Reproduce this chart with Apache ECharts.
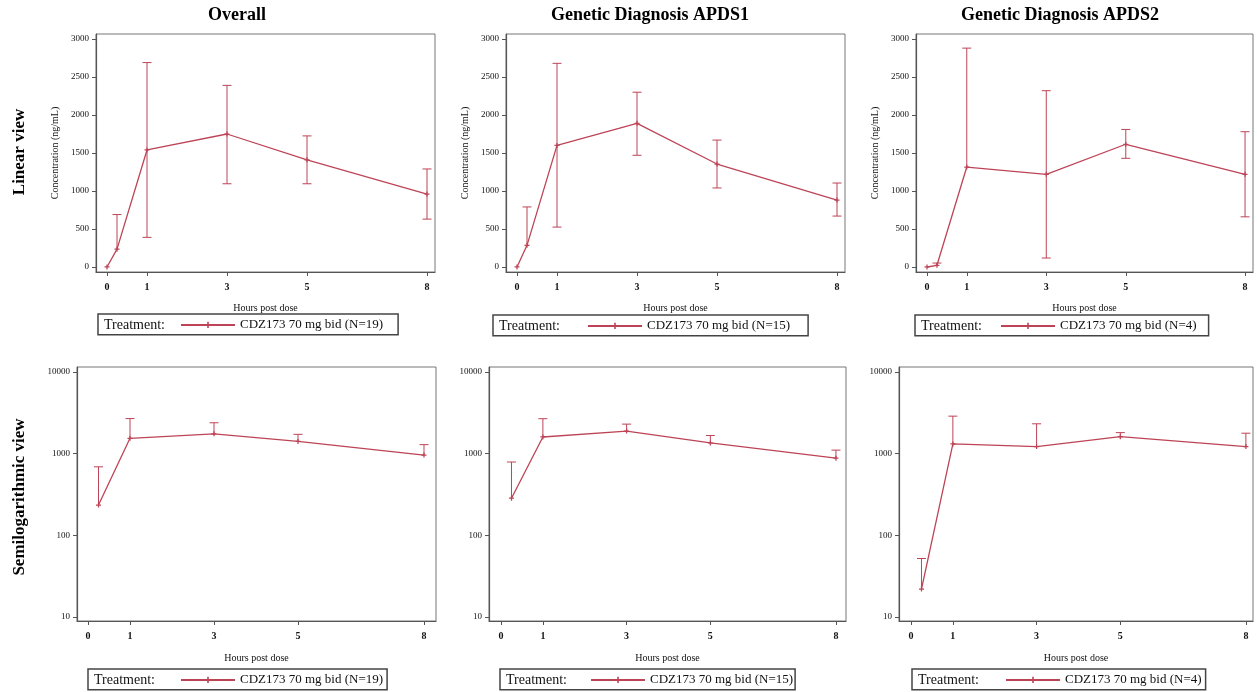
<!doctype html>
<html>
<head>
    <title>CDZ173 concentration</title>
    <script src="https://cdn.jsdelivr.net/npm/echarts@6/dist/echarts.min.js"></script>
</head>
<style>
    html, body { margin: 0; padding: 0; background: #fff; }
    #EChartParent { width: 1257px; height: 692px; }
</style>
<body>
<div id="EChartParent"></div>
<script>
  // data (ng/mL), hours post dose
  var hours = [0, 0.25, 1, 3, 5, 8];
  var overallMean  = [0, 235, 1540, 1750, 1410, 960];
  var overallUpper = [0, 690, 2690, 2390, 1725, 1290];
  var overallLower = [0, 235, 390, 1095, 1095, 630];   // lower = mean where no lower whisker shown
  var apds1Mean  = [0, 285, 1600, 1890, 1355, 880];
  var apds1Upper = [0, 790, 2680, 2300, 1670, 1105];
  var apds1Lower = [0, 285, 525, 1470, 1040, 670];
  var apds2Mean  = [0, 22, 1315, 1220, 1615, 1220];
  var apds2Upper = [0, 52, 2880, 2320, 1810, 1780];
  var apds2Lower = [0, 22, 1315, 118, 1430, 660];

  var columnTitles = ['Overall', 'Genetic Diagnosis APDS1', 'Genetic Diagnosis APDS2'];
  var legendNames = ['CDZ173 70 mg bid (N=19)', 'CDZ173 70 mg bid (N=15)', 'CDZ173 70 mg bid (N=4)'];
  var hourTicks = [0, 1, 3, 5, 8];
  var linearTicks = [0, 500, 1000, 1500, 2000, 2500, 3000];
  var logTicks = [10, 100, 1000, 10000];

  var means = [overallMean, apds1Mean, apds2Mean];
  var uppers = [overallUpper, apds1Upper, apds2Upper];
  var lowers = [overallLower, apds1Lower, apds2Lower];

  var serif = '"Liberation Serif", "Times New Roman", serif';
  var red = '#bd4456';
  var plus = 'path://M3,0H5V3H8V5H5V8H3V5H0V3H3Z';

  // panel layout: linear row then semilog row
  var panels = [
    { col: 0, log: false, left: 96,  top: 34,  width: 339, height: 238, xmin: -0.275, xmax: 8.2,  lgLeft: 98,  lgTop: 314, lgPad: 82, lgRight: 15 },
    { col: 1, log: false, left: 506, top: 34,  width: 339, height: 238, xmin: -0.275, xmax: 8.2,  lgLeft: 493, lgTop: 315, lgPad: 94, lgRight: 18 },
    { col: 2, log: false, left: 916, top: 34,  width: 337, height: 238, xmin: -0.277, xmax: 8.2,  lgLeft: 915, lgTop: 315, lgPad: 85, lgRight: 12 },
    { col: 0, log: true,  left: 77,  top: 367, width: 359, height: 254, xmin: -0.262, xmax: 8.286, lgLeft: 88,  lgTop: 669, lgPad: 92, lgRight: 4 },
    { col: 1, log: true,  left: 489, top: 367, width: 357, height: 254, xmin: -0.287, xmax: 8.24, lgLeft: 500, lgTop: 669, lgPad: 90, lgRight: 2 },
    { col: 2, log: true,  left: 899, top: 367, width: 354, height: 254, xmin: -0.287, xmax: 8.17, lgLeft: 912, lgTop: 669, lgPad: 93, lgRight: 4 }
  ];

  var axisColor = '#555';

  function renderErrorBar(params, api) {
    var x = api.value(0), m = api.value(1), lo = api.value(2), hi = api.value(3);
    var pm = api.coord([x, m]);
    var w = 4.5;
    var style = { stroke: red, lineWidth: 1 };
    var children = [];
    if (hi > m) {
      var ph = api.coord([x, hi]);
      children.push({ type: 'line', shape: { x1: pm[0], y1: pm[1], x2: ph[0], y2: ph[1] }, style: style });
      children.push({ type: 'line', shape: { x1: ph[0] - w, y1: ph[1], x2: ph[0] + w, y2: ph[1] }, style: style });
    }
    if (lo < m) {
      var pl = api.coord([x, lo]);
      children.push({ type: 'line', shape: { x1: pm[0], y1: pm[1], x2: pl[0], y2: pl[1] }, style: style });
      children.push({ type: 'line', shape: { x1: pl[0] - w, y1: pl[1], x2: pl[0] + w, y2: pl[1] }, style: style });
    }
    return { type: 'group', children: children };
  }

  var grids = [], xAxes = [], yAxes = [], series = [], legends = [], graphics = [];

  panels.forEach(function (p, i) {
    grids.push({ left: p.left, top: p.top, width: p.width, height: p.height, show: true,
      borderColor: '#777', borderWidth: 1, containLabel: false, outerBoundsMode: 'none' });

    xAxes.push({
      type: 'value', gridIndex: i, min: p.xmin, max: p.xmax,
      name: 'Hours post dose', nameLocation: 'middle', nameGap: p.log ? 30 : 29,
      nameTextStyle: { fontFamily: serif, fontSize: 10, color: '#111' },
      axisLine: { show: true, onZero: false, lineStyle: { color: axisColor, width: 1.2 } },
      axisTick: { show: true, length: 4, customValues: hourTicks, lineStyle: { color: axisColor } },
      axisLabel: { customValues: hourTicks, margin: 8, fontFamily: serif, fontSize: 10, fontWeight: 'bold', color: '#111' },
      splitLine: { show: false }
    });

    var yAxis = {
      gridIndex: i,
      axisLine: { show: true, onZero: false, lineStyle: { color: axisColor, width: 1.2 } },
      axisTick: { show: true, length: 4, lineStyle: { color: axisColor } },
      axisLabel: { margin: 7, fontFamily: serif, fontSize: 9, color: '#111',
        formatter: function (v) { return String(v); } },
      splitLine: { show: false }
    };
    if (p.log) {
      yAxis.type = 'log';
      yAxis.logBase = 10;
      yAxis.min = 8.93;
      yAxis.max = 11512;
      yAxis.axisTick.customValues = logTicks;
      yAxis.axisLabel.customValues = logTicks;
    } else {
      yAxis.type = 'value';
      yAxis.min = -66;
      yAxis.max = 3066;
      yAxis.axisTick.customValues = linearTicks;
      yAxis.axisLabel.customValues = linearTicks;
      yAxis.name = 'Concentration (ng/mL)';
      yAxis.nameLocation = 'middle';
      yAxis.nameGap = 33;
      yAxis.nameTextStyle = { fontFamily: serif, fontSize: 10, color: '#111' };
    }
    yAxes.push(yAxis);

    var lineData = [], barData = [];
    hours.forEach(function (h, k) {
      var m = means[p.col][k];
      if (p.log && m <= 0) return;
      lineData.push([h, m]);
      barData.push([h, m, p.log ? m : lowers[p.col][k], uppers[p.col][k]]);
    });

    series.push({
      type: 'custom', name: 'sd' + i, xAxisIndex: i, yAxisIndex: i,
      renderItem: renderErrorBar, data: barData, silent: true,
      encode: { x: 0, y: [1, 2, 3] }
    });
    series.push({
      type: 'line', name: legendNames[p.col], xAxisIndex: i, yAxisIndex: i,
      data: lineData, symbol: plus, symbolSize: 5,
      lineStyle: { color: red, width: 1.3 }, itemStyle: { color: red }
    });

    legends.push({
      left: p.lgLeft, top: p.lgTop, data: [legendNames[p.col]], selectedMode: false,
      itemWidth: 54, itemHeight: 8, padding: [1, p.lgRight, 0, p.lgPad],
      borderColor: '#444', borderWidth: 1.5, backgroundColor: '#fff',
      textStyle: { fontFamily: serif, fontSize: 13, lineHeight: 16, color: '#111' }
    });

    graphics.push({
      type: 'text', left: p.lgLeft + 6, top: p.lgTop + 1, z: 100,
      style: { text: 'Treatment:', font: '14px ' + serif, fill: '#111' }
    });
  });

  // column titles
  var titleCenters = [237, 650, 1060];
  columnTitles.forEach(function (t, c) {
    graphics.push({
      type: 'text', x: titleCenters[c], y: 15, z: 100,
      style: { text: t, font: 'bold 18px ' + serif, fill: '#000', align: 'center', verticalAlign: 'middle' }
    });
  });

  // row labels
  graphics.push({
    type: 'text', x: 20, y: 152, rotation: Math.PI / 2, z: 100,
    style: { text: 'Linear view', font: 'bold 17px ' + serif, fill: '#000', align: 'center', verticalAlign: 'middle' }
  });
  graphics.push({
    type: 'text', x: 20, y: 497, rotation: Math.PI / 2, z: 100,
    style: { text: 'Semilogarithmic view', font: 'bold 17px ' + serif, fill: '#000', align: 'center', verticalAlign: 'middle' }
  });

  var chart = echarts.init(document.getElementById('EChartParent'));
  chart.setOption({
    animation: false,
    backgroundColor: '#fff',
    grid: grids,
    xAxis: xAxes,
    yAxis: yAxes,
    legend: legends,
    graphic: graphics,
    series: series
  });
</script>
</body>
</html>
